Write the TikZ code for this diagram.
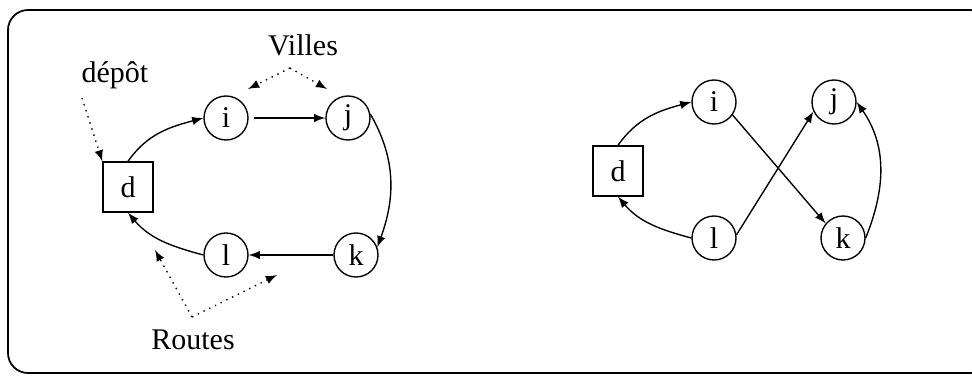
\documentclass[tikz,border=0pt]{standalone}
\usepackage{fontspec}
\setmainfont{Liberation Serif}
\usetikzlibrary{shapes,arrows,positioning}

\begin{document}
\begin{tikzpicture}[x=0.4pt,y=0.4pt,>=latex,font=\fontsize{12}{14}\selectfont,
    line width=0.55pt,
    ville/.style={draw,circle,minimum size=17.6pt,inner sep=0pt},
    depot/.style={draw,minimum size=20pt,inner sep=0pt},
    route/.style={->},
    renvoi/.style={->,dotted}]
    \useasboundingbox (0,0) rectangle (972,375);
    \draw[rounded corners=8pt,line width=0.7pt] (8,2) rectangle (990,365);
    % tournee simple
    \node[depot] (d1) at (128,188) {d};
    \node[ville] (i1) at (226,257) {i};
    \node[ville] (j1) at (348,257) {j};
    \node[ville] (k1) at (356,120) {k};
    \node[ville] (l1) at (226,120) {l};
    \draw[route] (d1.north) to[out=55,in=195] (i1.west);
    \draw[route] (i1.east) ++(2pt,0) -- (j1.west);
    \draw[route] (j1.10) to[out=-60,in=70] (k1.20);
    \draw[route] (k1.west) -- (l1.east);
    \draw[route] (l1.west) to[out=165,in=-50] (d1.south);
    % legendes
    \node (depotlbl) at (115,300) {dépôt};
    \node (villeslbl) at (303,330) {Villes};
    \node (routeslbl) at (193,35) {Routes};
    \coordinate (dtop) at (82,277);
    \coordinate (vtop) at (290,307);
    \coordinate (vi) at (248,286);
    \coordinate (vj) at (327,286);
    \coordinate (rbot) at (192,58);
    \coordinate (rl) at (155,125);
    \coordinate (rk) at (277,100);
    \draw[renvoi] (dtop) -- (d1.north west);
    \draw[renvoi] (vtop) -- (vi);
    \draw[renvoi] (vtop) -- (vj);
    \draw[renvoi] (rbot) -- (rl);
    \draw[renvoi] (rbot) -- (rk);
    % tournee croisee
    \node[depot] (d2) at (618,204) {d};
    \node[ville] (i2) at (714,273) {i};
    \node[ville] (j2) at (834,273) {j};
    \node[ville] (k2) at (843,137) {k};
    \node[ville] (l2) at (714,137) {l};
    \draw[route] (d2.north) to[out=55,in=195] (i2.west);
    \draw[route] (i2.-35) -- (k2.140);
    \draw[route] (l2.8) -- (j2.205);
    \draw[route] (k2.east) to[out=68,in=-55] (j2.east);
    \draw[route] (l2.west) to[out=165,in=-50] (d2.south);
\end{tikzpicture}
\end{document}
